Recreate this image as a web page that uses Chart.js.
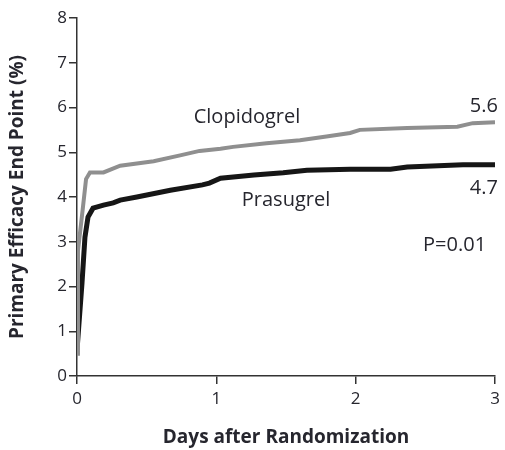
<!DOCTYPE html>
<html>
<head>
<meta charset="utf-8">
<script src="https://cdn.jsdelivr.net/npm/chart.js@4.4.1/dist/chart.umd.min.js"></script>
<style>
  html, body { margin: 0; padding: 0; background: #fff; }
  #wrap { width: 505px; height: 450px; }
</style>
</head>
<body>
<div id="wrap"><canvas id="chart"></canvas></div>
<script>
// --------------------- data ---------------------
const clopiDays = [0, 0.007, 0.04, 0.065, 0.093, 0.19, 0.31, 0.55, 0.74, 0.88, 1.03, 1.12, 1.36, 1.6, 1.79, 1.96, 2.03, 2.37, 2.73, 2.84, 3.0];
const clopiPct  = [0.5, 2.8, 3.7, 4.4, 4.55, 4.55, 4.7, 4.8, 4.93, 5.03, 5.08, 5.12, 5.2, 5.27, 5.35, 5.43, 5.5, 5.54, 5.57, 5.65, 5.67];

const prasDays = [0, 0.036, 0.057, 0.079, 0.115, 0.19, 0.26, 0.31, 0.43, 0.67, 0.9, 0.95, 1.03, 1.27, 1.48, 1.65, 1.96, 2.25, 2.37, 2.77, 3.0];
const prasPct  = [0.58, 2.08, 3.1, 3.55, 3.75, 3.82, 3.87, 3.93, 4.0, 4.15, 4.27, 4.31, 4.42, 4.49, 4.54, 4.6, 4.62, 4.62, 4.67, 4.72, 4.72];

const xTicks = [0, 1, 2, 3];
const yTicks = [0, 1, 2, 3, 4, 5, 6, 7, 8];

// text labels placed in data coordinates
const noteText = ["Clopidogrel", "Prasugrel", "5.6", "4.7", "P=0.01"];
const noteX    = [1.22, 1.5, 2.92, 2.92, 2.71];
const noteY    = [5.79, 3.93, 6.03, 4.2, 2.93];

const FONT = "'Open Sans', 'Noto Sans', sans-serif";
const INK = "#26262e";

function toPoints(xs, ys) {
  return xs.map((x, i) => ({ x: x, y: ys[i] }));
}

// draws the in-plot labels
const notesPlugin = {
  id: "notes",
  afterDatasetsDraw(chart) {
    const ctx = chart.ctx;
    const xs = chart.scales.x, ys = chart.scales.y;
    ctx.save();
    ctx.fillStyle = INK;
    ctx.font = "20px " + FONT;
    ctx.textAlign = "center";
    ctx.textBaseline = "middle";
    noteText.forEach((t, i) => {
      ctx.fillText(t, xs.getPixelForValue(noteX[i]), ys.getPixelForValue(noteY[i]));
    });
    ctx.restore();
  }
};

new Chart(document.getElementById("chart"), {
  type: "line",
  data: {
    datasets: [
      {
        label: "Clopidogrel",
        data: toPoints(clopiDays, clopiPct),
        borderColor: "#8f8f8f",
        borderWidth: 4,
        pointRadius: 0,
        tension: 0,
        fill: false,
      },
      {
        label: "Prasugrel",
        data: toPoints(prasDays, prasPct),
        borderColor: "#161616",
        borderWidth: 5,
        pointRadius: 0,
        tension: 0,
        fill: false,
      },
    ],
  },
  options: {
    responsive: true,
    maintainAspectRatio: false,
    animation: false,
    layout: { padding: { top: 18, right: 10, left: 0, bottom: 0 } },
    plugins: {
      legend: { display: false },
      tooltip: { enabled: false },
    },
    scales: {
      x: {
        type: "linear",
        min: 0,
        max: 3,
        afterBuildTicks: (s) => { s.ticks = xTicks.map((v) => ({ value: v })); },
        afterFit: (s) => { s.height = 74; },
        border: { color: "#333", width: 1.5 },
        grid: { drawOnChartArea: false, drawTicks: true, tickLength: 8, color: "#333", lineWidth: 1.5 },
        ticks: { color: INK, font: { family: FONT, size: 17 }, padding: 5 },
        title: {
          display: true,
          text: "Days after Randomization",
          color: INK,
          font: { family: FONT, size: 19, weight: "bold" },
          padding: { top: 6, bottom: 1 },
        },
      },
      y: {
        type: "linear",
        min: 0,
        max: 8,
        afterBuildTicks: (s) => { s.ticks = yTicks.map((v) => ({ value: v })); },
        afterFit: (s) => { s.width = 77; },
        border: { color: "#333", width: 1.5 },
        grid: { drawOnChartArea: false, drawTicks: true, tickLength: 8, color: "#333", lineWidth: 1.5 },
        ticks: { color: INK, font: { family: FONT, size: 17 }, padding: 2 },
        title: {
          display: true,
          text: "Primary Efficacy End Point (%)",
          color: INK,
          font: { family: FONT, size: 19, weight: "bold" },
          padding: { top: 6, bottom: 0 },
        },
      },
    },
  },
  plugins: [notesPlugin],
});
</script>
</body>
</html>
